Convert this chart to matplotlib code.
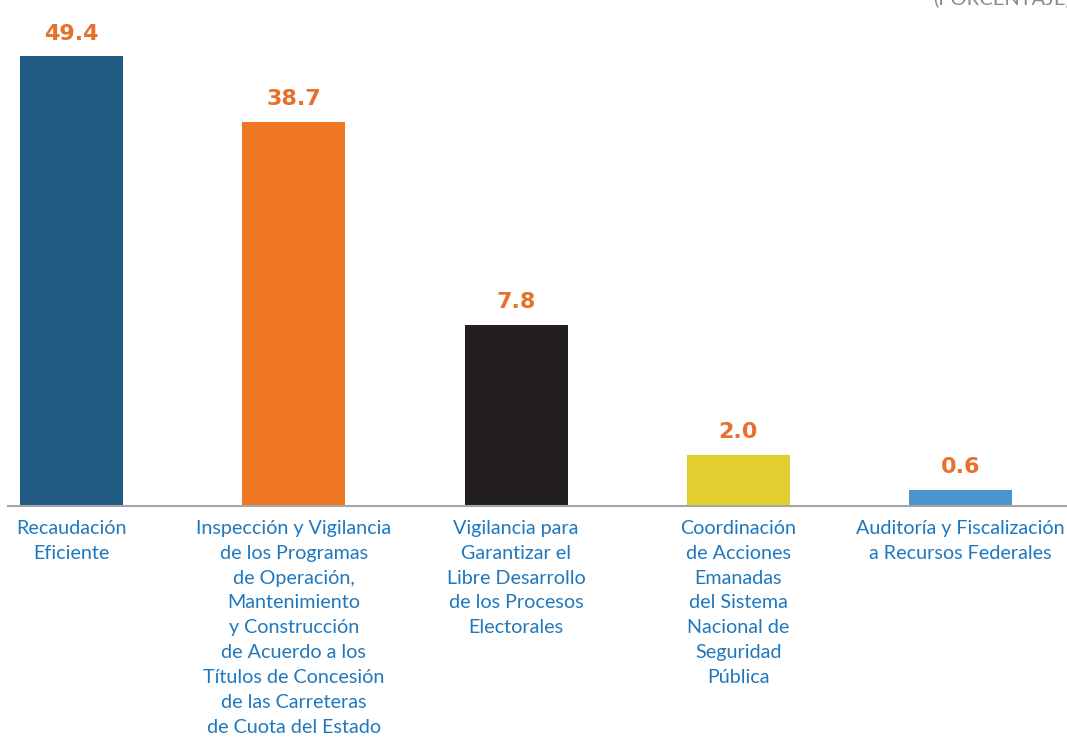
import matplotlib.pyplot as plt

# datos (las barras del original no siguen una escala lineal)
categorias = [
    "Recaudación\nEficiente",
    "Inspección y Vigilancia\nde los Programas\nde Operación,\nMantenimiento\ny Construcción\nde Acuerdo a los\nTítulos de Concesión\nde las Carreteras\nde Cuota del Estado",
    "Vigilancia para\nGarantizar el\nLibre Desarrollo\nde los Procesos\nElectorales",
    "Coordinación\nde Acciones\nEmanadas\ndel Sistema\nNacional de\nSeguridad\nPública",
    "Auditoría y Fiscalización\na Recursos Federales",
]
etiquetas = ["49.4", "38.7", "7.8", "2.0", "0.6"]
alturas = [49.4, 42.2, 19.9, 5.6, 1.8]
colores = ["#215B84", "#EF7622", "#231F20", "#E1CF2F", "#4A95CF"]

W, H = 1067, 740
fig = plt.figure(figsize=(W / 100, H / 100), dpi=100)

# ejes colocados en pixeles: linea base en y=506, barra mayor hasta y=56
ax = fig.add_axes([8 / W, (H - 506) / H, 1059 / W, 450 / H])
x = list(range(len(alturas)))
ax.bar(x, alturas, width=0.4634, color=colores, zorder=2)
ax.set_xlim(-0.2857, 4.479)
ax.set_ylim(0, 49.4)

for s in ["top", "right", "left"]:
    ax.spines[s].set_visible(False)
ax.spines["bottom"].set_color("#A6A6A6")
ax.spines["bottom"].set_linewidth(1.5)
ax.set_yticks([])
ax.set_xticks([])

for xi, h, lab in zip(x, alturas, etiquetas):
    ax.annotate(lab, (xi, h), xytext=(0, 9), textcoords="offset points",
                ha="center", va="bottom", fontsize=16, fontweight="bold",
                color="#E8702A", family="DejaVu Sans", annotation_clip=False)

for xi, cat in zip(x, categorias):
    ax.annotate(cat, (xi, 0), xytext=(0, -10), textcoords="offset points",
                ha="center", va="top", fontsize=14.2, color="#1F78BE",
                family="Lato", linespacing=1.56, annotation_clip=False)

# título cortado en la esquina superior derecha, como en el original
fig.text(933 / W, 1 + 11 / H, "(PORCENTAJE)", ha="left", va="top",
         fontsize=14.5, color="#8A8A8A", family="Lato")

fig.savefig("out.png", dpi=100)
